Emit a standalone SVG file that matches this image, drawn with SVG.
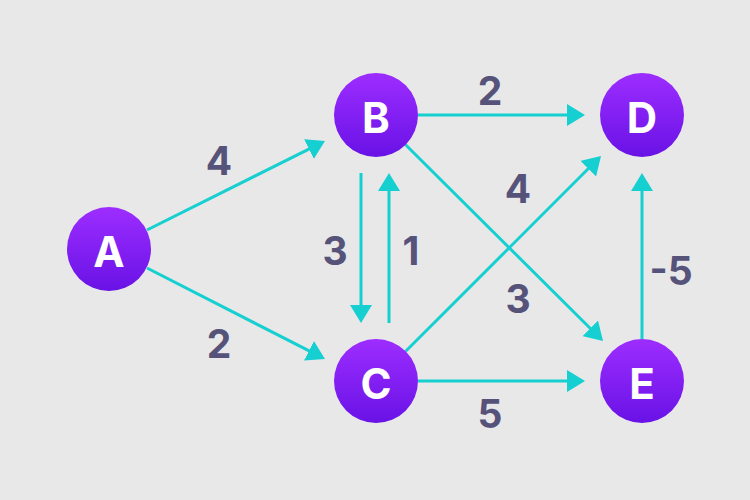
<svg xmlns="http://www.w3.org/2000/svg" width="750" height="500" viewBox="0 0 750 500">
<defs>
<linearGradient id="g" x1="0" y1="0" x2="0" y2="1">
<stop offset="0" stop-color="#9d2dff"/>
<stop offset="1" stop-color="#6912e6"/>
</linearGradient>
<marker id="ar" viewBox="0 0 18 22" refX="14" refY="11" markerWidth="18" markerHeight="22" markerUnits="userSpaceOnUse" orient="auto">
<path d="M0,0 L18,11 L0,22 z" fill="#16cfd0"/>
</marker>
<style>
.e{stroke:#16cfd0;stroke-width:3;fill:none;marker-end:url(#ar)}
.n circle{fill:url(#g)}
.n text{fill:#fff;font-family:Inter,"DejaVu Sans",sans-serif;font-weight:700;font-size:42px;text-anchor:middle;dominant-baseline:central}
.l{fill:#56537a;font-family:Inter,"DejaVu Sans",sans-serif;font-weight:700;font-size:39px;text-anchor:middle;dominant-baseline:central}
</style>
</defs>
<rect width="750" height="500" fill="#e8e8e8"/>
<g id="connectors">
<line class="e" x1="147" y1="230" x2="321.4" y2="142.8"/>
<line class="e" x1="147" y1="268" x2="321.4" y2="357.2"/>
<line class="e" x1="418" y1="115" x2="581" y2="115"/>
<line class="e" x1="405.6" y1="144.8" x2="600.2" y2="338.2"/>
<line class="e" x1="405.7" y1="351.3" x2="598.2" y2="158.8"/>
<line class="e" x1="418" y1="381" x2="581" y2="381"/>
<line class="e" x1="642" y1="339" x2="642" y2="177"/>
<line class="e" x1="361" y1="173" x2="361" y2="319"/>
<line class="e" x1="389" y1="323" x2="389" y2="177"/>
</g>
<g id="labels">
<text class="l" x="219" y="160">4</text>
<text class="l" x="219" y="343">2</text>
<text class="l" x="490" y="90">2</text>
<text class="l" x="335" y="250">3</text>
<text class="l" x="411" y="250">1</text>
<text class="l" x="518" y="188">4</text>
<text class="l" x="518" y="298">3</text>
<text class="l" x="671" y="270">-5</text>
<text class="l" x="490" y="413">5</text>
</g>
<g id="A" class="n"><circle cx="109" cy="249" r="42"/><text x="109" y="251">A</text></g>
<g id="B" class="n"><circle cx="376" cy="115" r="42"/><text x="376" y="117">B</text></g>
<g id="C" class="n"><circle cx="376" cy="381" r="42"/><text x="376" y="383">C</text></g>
<g id="D" class="n"><circle cx="642" cy="115" r="42"/><text x="642" y="117">D</text></g>
<g id="E" class="n"><circle cx="642" cy="381" r="42"/><text x="642" y="383">E</text></g>
</svg>
